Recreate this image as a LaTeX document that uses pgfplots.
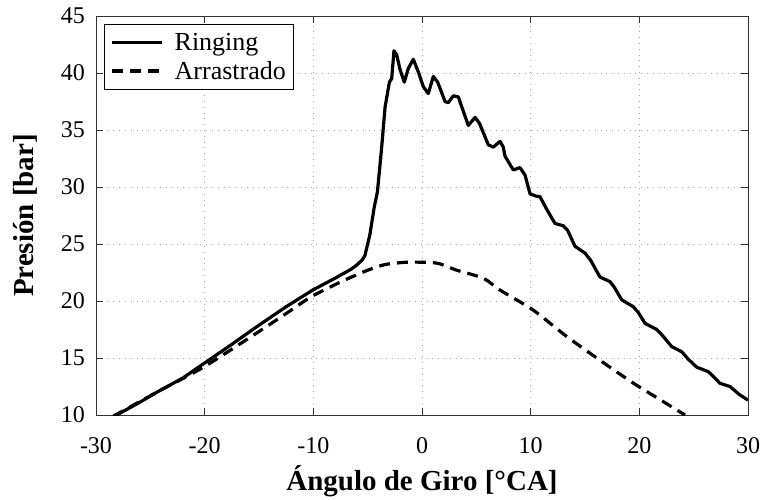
\documentclass[border=0pt]{standalone}
\usepackage{fontspec}
\setmainfont{Liberation Serif}
\usepackage{pgfplots}
\pgfplotsset{compat=1.18}
\begin{document}
\begin{tikzpicture}
\begin{axis}[
  scale only axis, width=652pt, height=399pt,
  xmin=-30, xmax=30, ymin=10, ymax=45,
  xtick={-30,-20,...,30}, ytick={10,15,...,45},
  grid=major,
  major grid style={gray!70, line width=0.8pt, dash pattern=on 0.8pt off 5pt},
  tick align=inside, major tick length=7pt,
  tick style={black!80, line width=0.8pt},
  axis line style={black!80, line width=0.9pt},
  /pgf/number format/assume math mode=true,
  ticklabel style={font=\fontsize{24}{24}\selectfont, inner sep=0pt},
  xticklabel style={anchor=north}, xticklabel shift=22pt,
  yticklabel style={anchor=east}, yticklabel shift=11pt,
  xlabel={Ángulo de Giro [°CA]},
  ylabel={Presión [bar]},
  label style={font=\fontsize{29}{30}\selectfont\bfseries},
  xlabel style={at={(axis description cs:0.5,-0.188)}, anchor=base},
  ylabel style={at={(axis description cs:-0.0966,0.5)}, anchor=base, rotate=0},
  legend cell align=left,
  legend style={at={(axis description cs:0.0123,0.98)}, anchor=north west,
    draw=black, line width=0.9pt, font=\fontsize{26}{26}\selectfont,
    nodes={inner sep=2pt},
    inner xsep=6pt, inner ysep=7pt, row sep=5pt, column sep=9pt},
  legend image code/.code={\draw[#1] (0pt,0pt) -- (50pt,0pt);},
]
\addplot[black, line width=3.2pt, line join=round] coordinates {
(-28.4,9.85) (-26,11.1) (-24.4,12.0) (-22,13.25) (-20.1,14.5) (-17.5,16.2)
(-15.2,17.75) (-12.5,19.5) (-10.06,20.96) (-8,22.0) (-6.5,22.8) (-6.0,23.16)
(-5.5,23.6) (-5.25,24.0) (-4.8,25.8) (-4.4,28.2) (-4.1,29.6) (-3.71,33.5)
(-3.4,37.0) (-3.0,39.2) (-2.79,39.5) (-2.58,41.95) (-2.33,41.6) (-2.02,40.3)
(-1.63,39.2) (-1.26,40.4) (-0.8,41.2) (-0.34,40.1) (0.12,38.8) (0.58,38.2)
(1.04,39.7) (1.44,39.2) (2.12,37.5) (2.42,37.4) (2.88,38.0) (3.34,37.9)
(4.26,35.4) (4.88,36.1) (5.28,35.6) (6.1,33.7) (6.56,33.5) (7.18,34.0)
(7.48,33.5) (7.64,32.7) (8.4,31.5) (9.02,31.7) (9.48,31.05) (9.94,29.4)
(10.5,29.2) (10.86,29.15) (11.5,28.0) (12.24,26.8) (13.0,26.6) (13.4,26.2)
(14.08,24.8) (15.0,24.2) (15.5,23.6) (16.38,22.1) (17.3,21.7) (17.7,21.2)
(18.38,20.1) (19.44,19.5) (19.9,19.0) (20.52,18.04) (21.6,17.5) (22.1,17.0)
(22.98,16.0) (23.9,15.55) (24.5,14.9) (25.28,14.2) (26.35,13.8) (26.9,13.3)
(27.42,12.78) (28.34,12.5) (29.2,11.8) (30.0,11.3)
};
\addlegendentry{Ringing}
\addplot[black, line width=3.2pt, dash pattern=on 11pt off 7pt, smooth, tension=0.4] coordinates {
(-28.4,9.9) (-24.4,12.0) (-20.1,14.2) (-15.2,17.2) (-12.5,18.9) (-10.15,20.4)
(-7.2,21.8) (-5,22.7) (-3.4,23.2) (-1.5,23.4) (0,23.4) (1.5,23.3) (3.2,22.7)
(5.64,22.0) (7.18,20.96) (10.24,19.2) (13.3,16.9) (16.38,14.8) (19.44,12.8)
(22.5,11.0) (24.2,10.0)
};
\addlegendentry{Arrastrado\hspace{8pt}}
\end{axis}
\pgfresetboundingbox
\path ([xshift=-96pt,yshift=-84pt]current axis.south west) rectangle ([xshift=12pt,yshift=16pt]current axis.north east);
\end{tikzpicture}
\end{document}
